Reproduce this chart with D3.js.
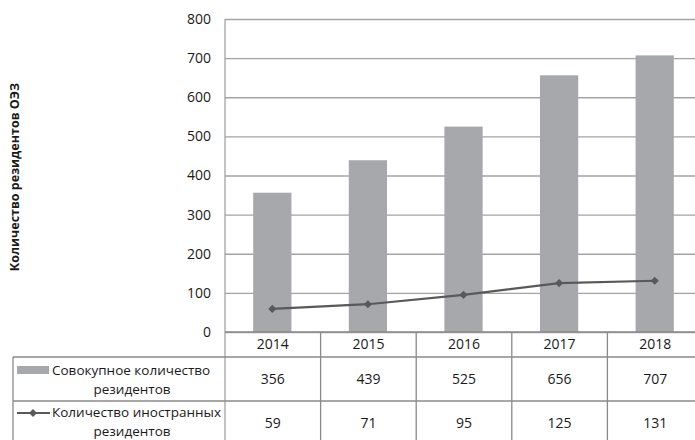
<!DOCTYPE html>
<html lang="ru">
<head>
<meta charset="utf-8">
<script src="https://cdnjs.cloudflare.com/ajax/libs/d3/7.8.5/d3.min.js"></script>
<style>
  body { margin: 0; background: #fff; }
  text { font-family: "Open Sans", sans-serif; fill: #1a1a1a; }
</style>
</head>
<body>
<div id="chart"></div>
<script>
// data
var years = ['2014', '2015', '2016', '2017', '2018'];
var totalResidents = [356, 439, 525, 656, 707];
var foreignResidents = [59, 71, 95, 125, 131];
var yTicks = [0, 100, 200, 300, 400, 500, 600, 700, 800];
var seriesNames = [['Совокупное количество', 'резидентов'], ['Количество иностранных', 'резидентов']];

var width = 695, height = 440;
var plotLeft = 225, plotRight = 703, plotTop = 19, plotBottom = 332;
var tableLeft = 13, rowHead = 357, row1 = 401, row2 = 446;
var gridColor = '#a3a3a3', barColor = '#a6a8ab', lineColor = '#595959';

var svg = d3.select('#chart').append('svg')
    .attr('width', width)
    .attr('height', height);

var x = d3.scaleBand().domain(years).range([plotLeft, plotRight]);
var y = d3.scaleLinear().domain([0, 800]).range([plotBottom, plotTop]);

// gridlines
svg.append('g')
    .attr('transform', 'translate(' + plotLeft + ',0)')
    .call(d3.axisLeft(y).tickValues(yTicks).tickSize(-(plotRight - plotLeft)).tickFormat(''))
    .call(function(g) {
      g.select('.domain').remove();
      g.selectAll('line').attr('stroke', gridColor).attr('stroke-width', 1.3);
    });

// tick labels
svg.append('g').selectAll('text').data(yTicks).enter().append('text')
    .attr('x', 211)
    .attr('y', function(d) { return y(d); })
    .attr('dy', '0.35em')
    .attr('text-anchor', 'end')
    .style('font-size', '14px')
    .text(function(d) { return d; });

// y axis line
svg.append('line')
    .attr('x1', plotLeft).attr('x2', plotLeft)
    .attr('y1', plotTop).attr('y2', height)
    .attr('stroke', gridColor).attr('stroke-width', 1.3);

// bars
var barW = x.bandwidth() * 0.4;
svg.append('g').selectAll('rect').data(totalResidents).enter().append('rect')
    .attr('x', function(d, i) { return x(years[i]) + (x.bandwidth() - barW) / 2 - 0.5; })
    .attr('y', function(d) { return y(d); })
    .attr('width', barW)
    .attr('height', function(d) { return plotBottom - y(d); })
    .attr('fill', barColor);

// line
var line = d3.line()
    .x(function(d, i) { return x(years[i]) + x.bandwidth() / 2 - 0.5; })
    .y(function(d) { return y(d); });

svg.append('path')
    .datum(foreignResidents)
    .attr('d', line)
    .attr('fill', 'none')
    .attr('stroke', lineColor)
    .attr('stroke-width', 2.2);

var diamond = d3.symbol().type(d3.symbolDiamond2).size(42);
svg.append('g').selectAll('path').data(foreignResidents).enter().append('path')
    .attr('d', diamond)
    .attr('transform', function(d, i) {
      return 'translate(' + (x(years[i]) + x.bandwidth() / 2 - 0.5) + ',' + y(d) + ')';
    })
    .attr('fill', lineColor);

// table borders
var tbl = svg.append('g').attr('stroke', '#8a8a8a').attr('stroke-width', 1.3);
tbl.append('line').attr('x1', plotLeft).attr('x2', width).attr('y1', plotBottom).attr('y2', plotBottom);
tbl.append('line').attr('x1', tableLeft).attr('x2', width).attr('y1', rowHead).attr('y2', rowHead);
tbl.append('line').attr('x1', tableLeft).attr('x2', width).attr('y1', row1).attr('y2', row1);
tbl.append('line').attr('x1', tableLeft).attr('x2', tableLeft).attr('y1', rowHead).attr('y2', height);
tbl.selectAll('.vline').data(years.slice(1)).enter().append('line')
    .attr('x1', function(d) { return x(d); })
    .attr('x2', function(d) { return x(d); })
    .attr('y1', plotBottom).attr('y2', height);

// year header
svg.append('g').selectAll('text').data(years).enter().append('text')
    .attr('x', function(d) { return x(d) + x.bandwidth() / 2; })
    .attr('y', (plotBottom + rowHead) / 2)
    .attr('dy', '0.35em')
    .attr('text-anchor', 'middle')
    .style('font-size', '14px')
    .text(function(d) { return d; });

// values rows
[totalResidents, foreignResidents].forEach(function(series, r) {
  var cy = r === 0 ? (rowHead + row1) / 2 : (row1 + row2) / 2;
  svg.append('g').selectAll('text').data(series).enter().append('text')
      .attr('x', function(d, i) { return x(years[i]) + x.bandwidth() / 2; })
      .attr('y', cy)
      .attr('dy', '0.35em')
      .attr('text-anchor', 'middle')
      .style('font-size', '14px')
      .text(function(d) { return d; });
});

// legend cells
svg.append('rect')
    .attr('x', 17).attr('y', 366).attr('width', 32).attr('height', 8)
    .attr('fill', barColor);
svg.append('line')
    .attr('x1', 17).attr('x2', 50).attr('y1', 413).attr('y2', 413)
    .attr('stroke', lineColor).attr('stroke-width', 2.2);
svg.append('path')
    .attr('d', diamond)
    .attr('transform', 'translate(33,413)')
    .attr('fill', lineColor);

var legendY = [[370, 389], [412, 431]];
seriesNames.forEach(function(lines, r) {
  svg.append('text')
      .attr('x', 52).attr('y', legendY[r][0])
      .attr('dy', '0.35em')
      .style('font-size', '13.5px')
      .text(lines[0]);
  svg.append('text')
      .attr('x', 132).attr('y', legendY[r][1])
      .attr('dy', '0.35em')
      .attr('text-anchor', 'middle')
      .style('font-size', '13.5px')
      .text(lines[1]);
});

// y axis title
svg.append('text')
    .attr('transform', 'translate(19,177) rotate(-90)')
    .attr('text-anchor', 'middle')
    .style('font-size', '12.5px')
    .style('font-weight', 'bold')
    .text('Количество  резидентов ОЭЗ');
</script>
</body>
</html>
